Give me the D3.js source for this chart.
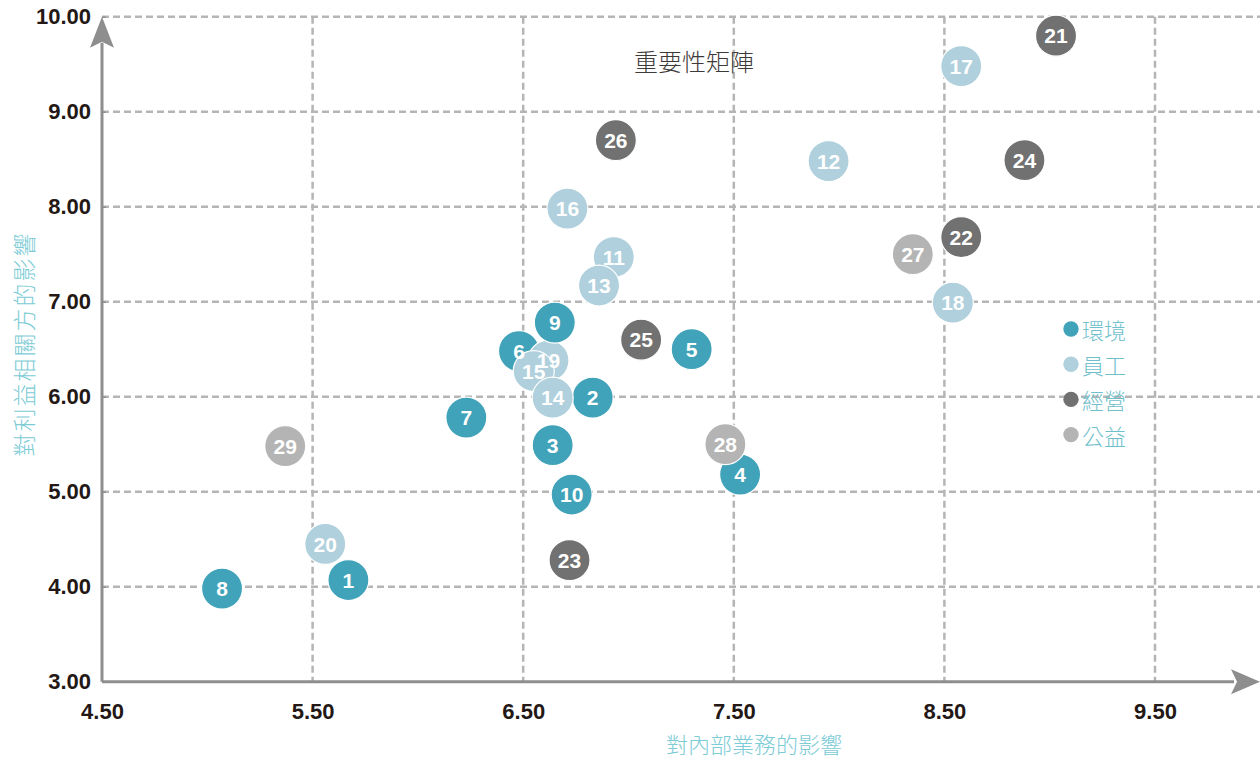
<!DOCTYPE html>
<html>
<head>
<meta charset="utf-8">
<script src="https://cdn.jsdelivr.net/npm/d3@7"></script>
<style>
  body { margin: 0; background: #fff; }
  text { font-family: 'Liberation Sans', Arial, sans-serif; }
  .cjk { font-family: 'Noto Sans CJK TC', 'Noto Sans CJK SC', sans-serif; font-weight: 300; }
</style>
</head>
<body>
<div class="content"></div>
<script>
// point number, 對內部業務的影響 (x), 對利益相關方的影響 (y), category index
const ids = [1, 2, 3, 4, 5, 6, 7, 8, 9, 10, 11, 12, 13, 14, 15, 16, 17, 18, 19, 20, 21, 22, 23, 24, 25, 26, 27, 28, 29];
const xValues = [5.67, 6.83, 6.64, 7.53, 7.30, 6.48, 6.23, 5.07, 6.65, 6.73,
  6.93, 7.95, 6.86, 6.64, 6.55, 6.71, 8.58, 8.54, 6.62, 5.56,
  9.03, 8.58, 6.72, 8.88, 7.06, 6.94, 8.35, 7.46, 5.37];
const yValues = [4.07, 5.99, 5.49, 5.18, 6.50, 6.48, 5.78, 3.98, 6.78, 4.97,
  7.47, 8.48, 7.17, 5.99, 6.27, 7.98, 9.48, 6.99, 6.38, 4.45,
  9.80, 7.68, 4.28, 8.49, 6.60, 8.70, 7.50, 5.50, 5.48];
const groups = [0, 0, 0, 0, 0, 0, 0, 0, 0, 0,
  1, 1, 1, 1, 1, 1, 1, 1, 1, 1,
  2, 2, 2, 2, 2, 2, 3, 3, 3];
const categories = ['環境', '員工', '經營', '公益'];
const colors = ['#41a3b9', '#afd0dc', '#717171', '#b4b4b4'];
const xTicks = [4.5, 5.5, 6.5, 7.5, 8.5, 9.5];
const yTicks = [3, 4, 5, 6, 7, 8, 9, 10];
// stacking order of the bubbles (later = on top)
const drawOrder = [2, 3, 4, 5, 6, 7, 8, 10, 11, 12, 13, 16, 17, 18, 19, 15, 14, 9, 20, 1, 21, 22, 23, 24, 25, 26, 27, 28, 29];

const [svgWidth, svgHeight] = [1260, 758];
const svg = d3.select('.content')
  .append('svg')
  .attr('width', svgWidth)
  .attr('height', svgHeight);

const x = d3.scaleLinear()
  .domain([4.5, 10])
  .range([102, 1260.3]);
const y = d3.scaleLinear()
  .domain([3, 10])
  .range([681.7, 16.7]);

const gridColor = '#b5b5b5';
const axisColor = '#8e8e8e';
const x0 = x(4.5), y0 = y(3), yTop = y(10), xEnd = 1260;

// grid
svg.append('g')
  .selectAll('line.hgrid')
  .data(yTicks.filter(d => d > 3))
  .enter()
  .append('line')
  .classed('hgrid', true)
  .attr('x1', x0)
  .attr('x2', xEnd)
  .attr('y1', d => y(d))
  .attr('y2', d => y(d))
  .attr('stroke', gridColor)
  .attr('stroke-width', 2.5)
  .attr('stroke-dasharray', '7,4');
svg.append('g')
  .selectAll('line.vgrid')
  .data(xTicks.filter(d => d > 4.5))
  .enter()
  .append('line')
  .classed('vgrid', true)
  .attr('x1', d => x(d))
  .attr('x2', d => x(d))
  .attr('y1', yTop)
  .attr('y2', y0)
  .attr('stroke', gridColor)
  .attr('stroke-width', 2.5)
  .attr('stroke-dasharray', '7,4');

// tick labels
const fmt = d3.format('.2f');
const xAxis = svg.append('g')
  .attr('transform', `translate(0, ${y0})`)
  .call(d3.axisBottom(x).tickValues(xTicks).tickFormat(fmt).tickSize(0).tickPadding(22));
const yAxis = svg.append('g')
  .attr('transform', `translate(${x0}, 0)`)
  .call(d3.axisLeft(y).tickValues(yTicks).tickFormat(fmt).tickSize(-4).tickPadding(11));
[xAxis, yAxis].forEach(g => {
  g.select('.domain').remove();
  g.selectAll('.tick line').attr('stroke', axisColor).attr('stroke-width', 1.5);
  g.selectAll('text')
    .attr('fill', '#231815')
    .attr('font-size', 22)
    .attr('font-weight', 'bold')
    .style('font-family', "'Liberation Sans', Arial, sans-serif");
});

// axis lines with arrows
svg.append('path')
  .attr('d', `M${x0},${y0} L${x0},${yTop + 26} M${x0},${y0} L${xEnd - 26},${y0}`)
  .attr('stroke', axisColor)
  .attr('stroke-width', 3)
  .attr('fill', 'none');
svg.append('path')
  .attr('d', `M${x0},${yTop} L${x0 - 12},${yTop + 31} L${x0},${yTop + 25} L${x0 + 12},${yTop + 31} Z`)
  .attr('fill', axisColor);
svg.append('path')
  .attr('d', `M${xEnd},${y0} L${xEnd - 29},${y0 - 12.5} L${xEnd - 23},${y0} L${xEnd - 29},${y0 + 12.5} Z`)
  .attr('fill', axisColor);

// titles
svg.append('text')
  .classed('cjk', true)
  .attr('x', 694)
  .attr('y', 60)
  .attr('text-anchor', 'middle')
  .attr('dominant-baseline', 'central')
  .attr('font-size', 24)
  .attr('fill', '#3e3a39')
  .text('重要性矩陣');
svg.append('text')
  .classed('cjk', true)
  .attr('x', 754)
  .attr('y', 743)
  .attr('text-anchor', 'middle')
  .attr('dominant-baseline', 'central')
  .attr('font-size', 22)
  .attr('fill', '#7ccbd5')
  .text('對內部業務的影響');
svg.append('text')
  .classed('cjk', true)
  .attr('transform', 'translate(23, 344) rotate(-90)')
  .attr('text-anchor', 'middle')
  .attr('dominant-baseline', 'central')
  .attr('font-size', 23)
  .attr('letter-spacing', 2)
  .attr('fill', '#7ccbd5')
  .text('對利益相關方的影響');

// bubbles
const points = drawOrder.map(id => ({
  id,
  x: xValues[id - 1],
  y: yValues[id - 1],
  g: groups[id - 1]
}));
svg.append('g')
  .selectAll('circle.bubble')
  .data(points)
  .enter()
  .append('circle')
  .classed('bubble', true)
  .attr('cx', d => x(d.x))
  .attr('cy', d => y(d.y))
  .attr('r', 20.5)
  .attr('fill', d => colors[d.g])
  .attr('stroke', '#fff')
  .attr('stroke-width', 1.2);
svg.append('g')
  .selectAll('text.label')
  .data(points)
  .enter()
  .append('text')
  .classed('label', true)
  .attr('x', d => x(d.x))
  .attr('y', d => y(d.y))
  .attr('text-anchor', 'middle')
  .attr('dy', '0.36em')
  .attr('font-size', 21)
  .attr('font-weight', 'bold')
  .attr('fill', '#fff')
  .text(d => d.id);

// legend
const legend = svg.append('g')
  .attr('transform', 'translate(1071, 329)')
  .selectAll('g.item')
  .data(categories)
  .enter()
  .append('g')
  .classed('item', true)
  .attr('transform', (d, i) => `translate(0, ${i * 35.2})`);
legend.append('circle')
  .attr('r', 7.7)
  .attr('fill', (d, i) => colors[i]);
legend.append('text')
  .classed('cjk', true)
  .attr('x', 11)
  .attr('dominant-baseline', 'central')
  .attr('font-size', 22)
  .attr('fill', '#6fc0cc')
  .text(d => d);
</script>
</body>
</html>
